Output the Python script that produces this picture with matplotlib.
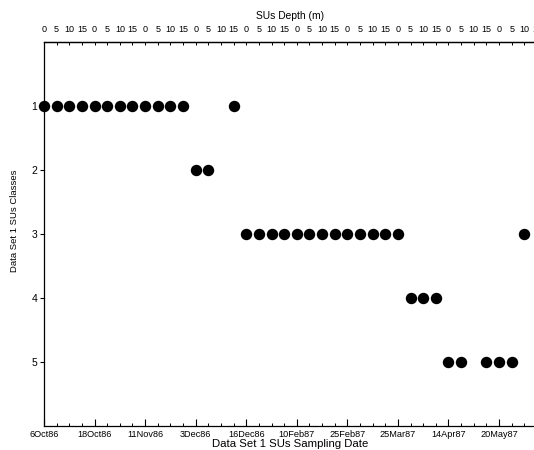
import matplotlib
matplotlib.use("Agg")
import matplotlib.pyplot as plt
import numpy as np

plt.rcParams['font.family'] = ['Liberation Sans', 'DejaVu Sans']

# Sampling dates; each date has four sampled depths
dates = ["6Oct86", "18Oct86", "11Nov86", "3Dec86", "16Dec86",
         "10Feb87", "25Feb87", "25Mar87", "14Apr87", "20May87"]
depths = ["0", "5", "10", "15"]

# SU class for every (date, depth) sample, in date-then-depth order; None = no sample
su_class = [1, 1, 1, 1,
            1, 1, 1, 1,
            1, 1, 1, 1,
            2, 2, None, 1,
            3, 3, 3, 3,
            3, 3, 3, 3,
            3, 3, 3, 3,
            3, 4, 4, 4,
            5, 5, None, 5,
            5, 5, 3, None]

class_ticks = [1, 2, 3, 4, 5]

n_samples = len(dates) * len(depths)
idx = np.arange(n_samples)
cls = np.array([np.nan if c is None else c for c in su_class], dtype=float)

W, H = 534, 450
fig = plt.figure(figsize=(W / 100, H / 100), dpi=100)
left_px, right_px = 44, 44 + 39 * 12.64
top_px, bottom_px = 42, 425.5
ax = fig.add_axes([left_px / W, 1 - bottom_px / H,
                   (right_px - left_px) / W, (bottom_px - top_px) / H])

ax.plot(idx, cls, linestyle="none", marker="o", markersize=7.2,
        color="black", clip_on=False)

ax.set_xlim(0, 39)
ax.set_ylim(6, 0)

ax.spines["right"].set_visible(False)
for s in ["left", "top", "bottom"]:
    ax.spines[s].set_linewidth(0.9)

# Y axis
ax.set_yticks(class_ticks)
ax.set_yticklabels([str(c) for c in class_ticks])
ax.tick_params(axis="y", direction="out", length=3, width=0.8,
               labelsize=7.5, pad=2)
ax.set_ylabel("Data Set 1 SUs Classes", fontsize=6.8)
ax.yaxis.set_label_coords(-0.051, (bottom_px - 221) / (bottom_px - top_px))

# Bottom axis: dates
major_pos = idx[::len(depths)]
ax.set_xticks(major_pos)
ax.set_xticklabels(dates)
ax.set_xticks(idx, minor=True)
ax.tick_params(axis="x", which="major", direction="in", length=5, width=0.8,
               labelsize=6.6, pad=3.2)
ax.tick_params(axis="x", which="minor", direction="in", length=2.5, width=0.7)
ax.set_xlabel("Data Set 1 SUs Sampling Date", fontsize=8.2, labelpad=0.3)

# Top axis: depth within each sampling date
top = ax.secondary_xaxis("top")
top.set_xticks(idx)
top.set_xticklabels([depths[i % len(depths)] for i in idx])
top.set_xticks(major_pos, minor=True)
top.tick_params(axis="x", which="major", direction="in", length=2.5, width=0.7,
                labelsize=6.5, pad=6)
top.tick_params(axis="x", which="minor", direction="in", length=5, width=0.8)
top.spines["top"].set_linewidth(0.9)
top.set_xlabel("SUs Depth (m)", fontsize=7.4, labelpad=4)

fig.savefig("out.png", dpi=100)
